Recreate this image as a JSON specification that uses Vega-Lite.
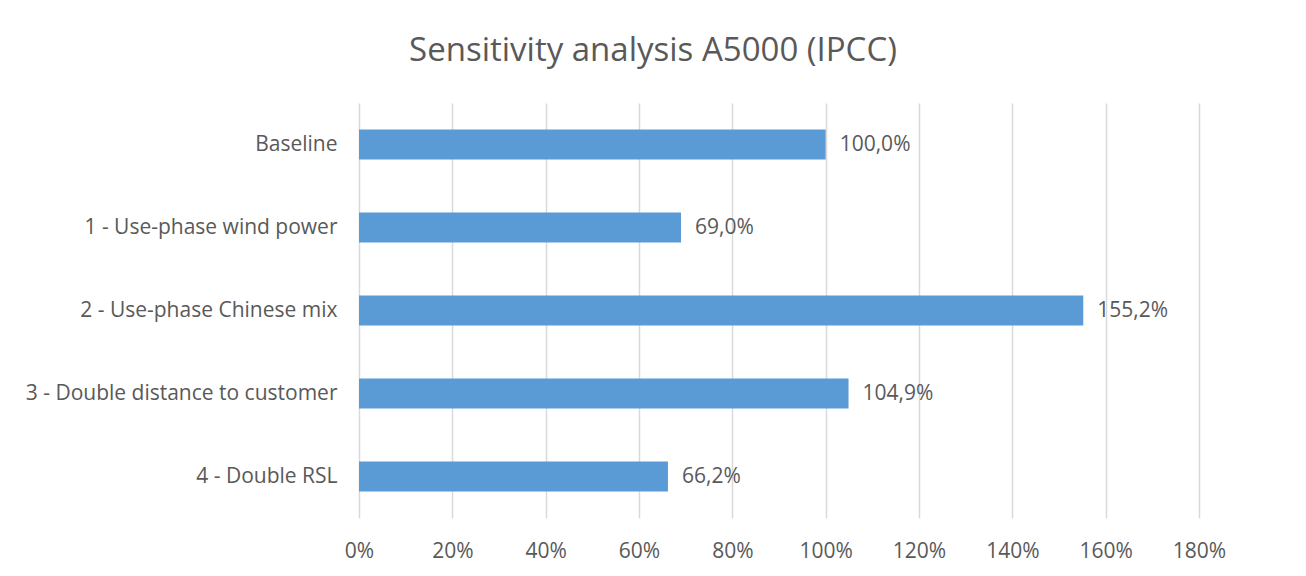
{
  "$schema": "https://vega.github.io/schema/vega-lite/v6.json",
  "width": 840,
  "height": 415,
  "autosize": {"type": "none"},
  "padding": {"left": 359, "top": 103, "right": 107, "bottom": 58},
  "background": "white",
  "title": {
    "text": "Sensitivity analysis A5000 (IPCC)",
    "font": "Open Sans",
    "fontSize": 33,
    "fontWeight": "normal",
    "color": "#595959",
    "anchor": "middle",
    "dx": -126,
    "offset": 35
  },
  "data": {
    "values": [
      {"scenario": "Baseline", "share": 1.0},
      {"scenario": "1 - Use-phase wind power", "share": 0.69},
      {"scenario": "2 - Use-phase Chinese mix", "share": 1.552},
      {"scenario": "3 - Double distance to customer", "share": 1.049},
      {"scenario": "4 - Double RSL", "share": 0.662}
    ]
  },
  "encoding": {
    "y": {
      "field": "scenario",
      "type": "nominal",
      "sort": null,
      "title": null,
      "scale": {"paddingInner": 0.64, "paddingOuter": 0.32},
      "axis": {
        "ticks": false,
        "domain": false,
        "labelPadding": 22,
        "labelFont": "Open Sans",
        "labelFontSize": 21,
        "labelColor": "#595959",
        "labelLimit": 400
      }
    },
    "x": {
      "field": "share",
      "type": "quantitative",
      "title": null,
      "scale": {"domain": [0, 1.8], "nice": false},
      "axis": {
        "values": [0, 0.2, 0.4, 0.6, 0.8, 1.0, 1.2, 1.4, 1.6, 1.8],
        "format": ".0%",
        "ticks": false,
        "domain": false,
        "grid": true,
        "gridColor": "#d9d9d9",
        "gridWidth": 1.5,
        "labelFlush": false,
        "labelPadding": 22,
        "labelFont": "Open Sans",
        "labelFontSize": 21,
        "labelColor": "#595959"
      }
    }
  },
  "layer": [
    {"mark": {"type": "bar", "color": "#5b9bd5"}},
    {
      "mark": {
        "type": "text",
        "align": "left",
        "baseline": "middle",
        "dx": 14,
        "font": "Open Sans",
        "fontSize": 21,
        "color": "#595959"
      },
      "encoding": {
        "text": {"field": "share", "type": "quantitative", "format": ".1%"}
      }
    }
  ],
  "config": {
    "view": {"stroke": null},
    "locale": {
      "number": {
        "decimal": ",",
        "thousands": ".",
        "grouping": [3],
        "currency": ["", " €"]
      }
    }
  }
}
